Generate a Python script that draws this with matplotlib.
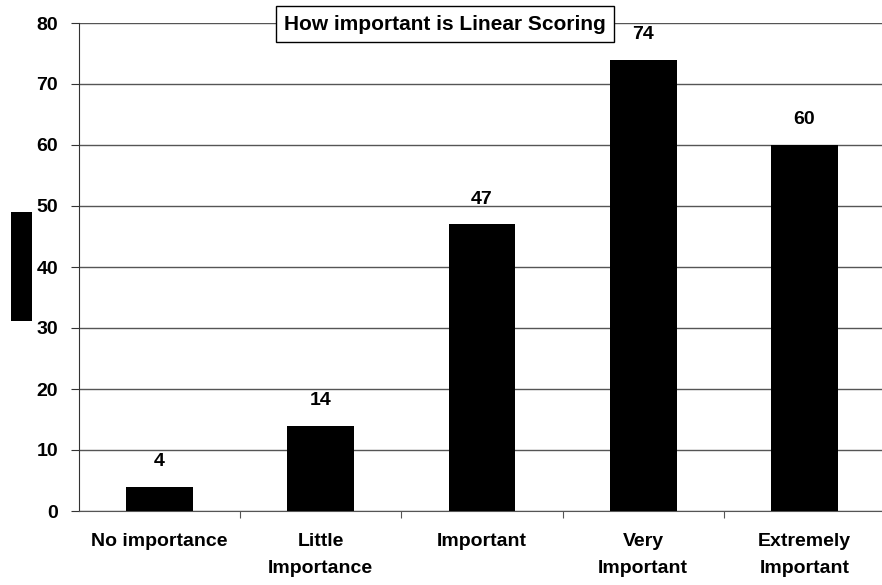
import matplotlib
matplotlib.use("Agg")
import matplotlib.pyplot as plt
from matplotlib.patches import Rectangle

plt.rcParams['font.family'] = ['Liberation Sans', 'DejaVu Sans']

categories = ["No importance", "Little\nImportance", "Important", "Very\nImportant", "Extremely\nImportant"]
counts = [4, 14, 47, 74, 60]
title = "How important is Linear Scoring"

fig = plt.figure(figsize=(8.82, 5.85), dpi=100)
# axes spans a little past the right edge, as in the reference
ax = fig.add_axes([79 / 882, 74 / 585, 806 / 882, 488 / 585])

pos = list(range(len(categories)))
ax.bar(pos, counts, width=0.415, color="black", zorder=3)
ax.set_xlim(-0.5, len(categories) - 0.5)
ax.set_ylim(0, 80)
ax.set_yticks(range(0, 81, 10))
ax.yaxis.grid(True, color="#555555", linewidth=1.0, zorder=0)

for s in ["top", "right"]:
    ax.spines[s].set_visible(False)
ax.spines["left"].set_color("#333333")
ax.spines["bottom"].set_color("#555555")

ax.set_xticks([p + 0.5 for p in pos[:-1]], minor=False)
ax.set_xticklabels([])
ax.set_xticks(pos, minor=True)
ax.set_xticklabels(categories, minor=True, fontsize=14, fontweight="bold", linespacing=1.75)
ax.tick_params(axis="x", which="minor", length=0, pad=16)
ax.tick_params(axis="x", which="major", length=5, color="#555555")
ax.tick_params(axis="y", length=6, pad=9, labelsize=14, color="#333333")
for lab in ax.get_yticklabels():
    lab.set_fontweight("bold")

for p, v in zip(pos, counts):
    ax.annotate(str(v), (p, v), xytext=(0, 12), textcoords="offset points",
                ha="center", va="bottom", fontsize=14, fontweight="bold")

fig.text(445 / 882, 1 - 24 / 585, title, ha="center", va="center", fontsize=15,
         fontweight="bold", zorder=5,
         bbox=dict(boxstyle="square,pad=0.4", facecolor="white", edgecolor="black", linewidth=1))

# legend key on the left
fig.patches.append(Rectangle((11 / 882, 1 - 321 / 585), 21 / 882, 109 / 585,
                             transform=fig.transFigure, facecolor="black", edgecolor="none"))

fig.savefig("out.png", dpi=100)
